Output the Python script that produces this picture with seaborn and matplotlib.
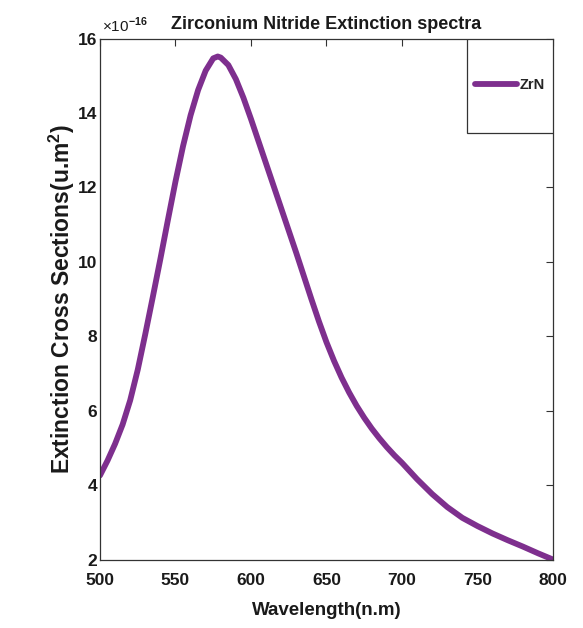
import matplotlib
matplotlib.use("Agg")
import matplotlib.pyplot as plt
import matplotlib.patches as mpatches
import seaborn as sns
import pandas as pd

wavelength = [500, 505, 510, 515, 520, 525, 530, 535, 540, 545, 550, 555, 560, 565, 570,
              575, 578, 580, 585, 590, 595, 600, 605, 610, 615, 620, 625, 630, 635, 640,
              645, 650, 655, 660, 665, 670, 675, 680, 685, 690, 695, 700, 710, 720, 730,
              740, 750, 760, 770, 780, 790, 800]
extinction = [4.26, 4.66, 5.11, 5.63, 6.28, 7.10, 8.06, 9.06, 10.08, 11.13, 12.16, 13.11,
              13.94, 14.62, 15.14, 15.47, 15.52, 15.49, 15.29, 14.91, 14.41, 13.84, 13.24,
              12.64, 12.04, 11.44, 10.84, 10.24, 9.62, 9.0, 8.4, 7.84, 7.34, 6.89, 6.49,
              6.13, 5.81, 5.52, 5.26, 5.02, 4.80, 4.60, 4.16, 3.76, 3.41, 3.12, 2.90, 2.70,
              2.52, 2.35, 2.17, 2.0]  # x 1e-16
series_label = "ZrN"
title = "Zirconium Nitride Extinction spectra"
xlabel = "Wavelength(n.m)"
ylabel = "Extinction Cross Sections(u.m$^{\\mathbf{2}}$)"
offset_label = "\u00d710$^{-16}$"
xticks = [500, 550, 600, 650, 700, 750, 800]
yticks = [2, 4, 6, 8, 10, 12, 14, 16]

sns.set_theme(style="white")
plt.rcParams['font.family'] = ['Liberation Sans', 'DejaVu Sans']
plt.rcParams['font.weight'] = 'bold'
plt.rcParams['mathtext.fontset'] = 'custom'
plt.rcParams['mathtext.rm'] = 'Liberation Sans'
plt.rcParams['mathtext.bf'] = 'Liberation Sans:bold'

df = pd.DataFrame({"Wavelength": wavelength, "Ext": extinction})

fig = plt.figure(figsize=(5.83, 6.28), dpi=100)
ax = fig.add_axes([0.1715, 0.109, 0.777, 0.8295])

sns.lineplot(data=df, x="Wavelength", y="Ext", ax=ax, color="#7E2F8E",
             linewidth=4.2, label=series_label, legend=False,
             solid_joinstyle='round', solid_capstyle='round')

ax.set_xlim(500, 800)
ax.set_ylim(2, 16)
ax.set_xticks(xticks)
ax.set_yticks(yticks)

ax.tick_params(axis='both', which='major', direction='in', length=5, width=0.8,
               labelsize=12.5, top=True, right=True, colors='#333333',
               labelcolor='#1a1a1a')
ax.tick_params(axis='x', pad=10)
ax.tick_params(axis='y', pad=2)
for lab in ax.get_xticklabels() + ax.get_yticklabels():
    lab.set_fontweight('bold')
for sp in ax.spines.values():
    sp.set_color('#333333')
    sp.set_linewidth(0.9)
    sp.set_visible(True)

ax.text(0.004, 1.006, offset_label, transform=ax.transAxes, ha='left', va='bottom',
        fontsize=11, fontweight='normal', color='#1a1a1a')
ax.set_title(title, fontsize=13, fontweight='bold', color='#1a1a1a', pad=7)
ax.set_xlabel(xlabel, fontsize=13.5, fontweight='bold', color='#1a1a1a', labelpad=10)
ax.set_ylabel(ylabel, fontsize=16.5, fontweight='bold', color='#1a1a1a', labelpad=0.5)

# legend box (MATLAB-style tall box)
rect = mpatches.Rectangle((0.81, 0.819), 0.19, 0.181, transform=ax.transAxes,
                          facecolor='white', edgecolor='#333333', linewidth=0.9, zorder=5)
ax.add_patch(rect)
leg = ax.legend(loc='center', bbox_to_anchor=(0.905, 0.911), frameon=False,
                handlelength=2.9, handletextpad=0.15,
                prop={'weight': 'bold', 'size': 10.5})
leg.set_zorder(6)

fig.savefig("out.png", dpi=100, facecolor='white')
